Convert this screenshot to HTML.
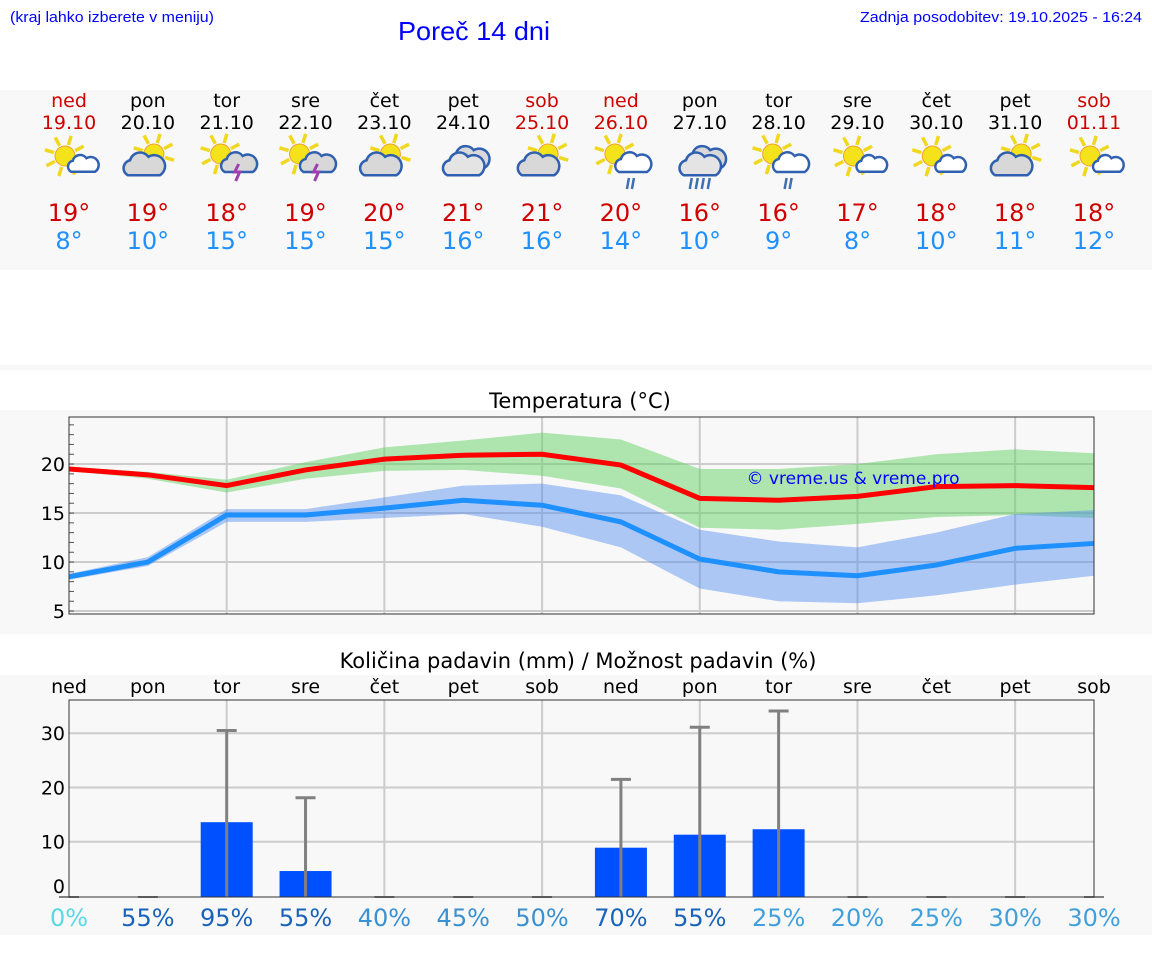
<!DOCTYPE html>
<html><head><meta charset="utf-8"><style>
body{margin:0;width:1152px;height:975px;background:#fff;overflow:hidden;font-family:"DejaVu Sans",sans-serif}
svg{display:block}
.hdr{font-family:"Liberation Sans",sans-serif;fill:#0000ff}
</style></head><body>
<svg id="s" width="1152" height="975" xmlns="http://www.w3.org/2000/svg">
<text class="hdr" x="10" y="22" font-size="15" textLength="204" lengthAdjust="spacingAndGlyphs">(kraj lahko izberete v meniju)</text>
<text class="hdr" x="398" y="40" font-size="26" textLength="152" lengthAdjust="spacingAndGlyphs">Poreč 14 dni</text>
<text class="hdr" x="1142" y="22" font-size="15" text-anchor="end" textLength="282" lengthAdjust="spacingAndGlyphs">Zadnja posodobitev: 19.10.2025 - 16:24</text>
<rect x="0" y="90" width="1152" height="180" fill="#f8f8f8"/>
<rect x="0" y="365" width="1152" height="5" fill="#f8f8f8"/>
<rect x="0" y="410" width="1152" height="224" fill="#f8f8f8"/>
<rect x="0" y="675" width="1152" height="260" fill="#f8f8f8"/>
<g id="daily"></g><g id="temp"></g><g id="prec"></g>
</svg>
<script>
const days=["ned","pon","tor","sre","čet","pet","sob","ned","pon","tor","sre","čet","pet","sob"];
const dates=["19.10","20.10","21.10","22.10","23.10","24.10","25.10","26.10","27.10","28.10","29.10","30.10","31.10","01.11"];
const icons=["sc","cs","st","st","cs","c","cs","sr","cr","sr","sc","sc","cs","sc"];
const hiTemps=[19,19,18,19,20,21,21,20,16,16,17,18,18,18];
const loTemps=[8,10,15,15,15,16,16,14,10,9,8,10,11,12];
const hiLine=[19.5,18.9,17.8,19.4,20.5,20.9,21,19.9,16.5,16.3,16.7,17.7,17.8,17.6];
const hiUpper=[19.7,19.2,18.4,20.2,21.7,22.4,23.2,22.5,19.5,19.5,20,21,21.5,21.1];
const hiLower=[19.3,18.5,17.1,18.5,19.3,19.4,18.8,17.5,13.5,13.3,13.9,14.6,14.8,14.5];
const loLine=[8.5,10,14.8,14.8,15.5,16.3,15.8,14.1,10.3,9,8.6,9.7,11.4,11.9];
const loUpper=[8.8,10.5,15.4,15.4,16.6,17.8,18,16.8,13.3,12.1,11.5,13,14.9,15.3];
const loLower=[8.2,9.6,14.1,14.1,14.5,14.9,13.6,11.5,7.3,6,5.8,6.6,7.7,8.6];
const tempTicks=[5,10,15,20];
const precip=[0,0,13.6,4.6,0,0,0,8.9,11.3,12.3,0,0,0,0];
const precipMax=[0,0,30.5,18.1,0,0,0,21.5,31.1,34.1,0,0,0,0];
const precipTicks=[0,10,20,30];
const chance=[0,55,95,55,40,45,50,70,55,25,20,25,30,30];
const NS="http://www.w3.org/2000/svg";
function mk(tag,attrs,parent,txt){const e=document.createElementNS(NS,tag);for(const k in attrs)e.setAttribute(k,attrs[k]);if(txt!==undefined)e.textContent=txt;parent.appendChild(e);return e;}
const X0=69,X1=1094;
const xs=i=>X0+i*(X1-X0)/13;
const red="#d00000",blue="#1e90ff";
const dg=document.getElementById('daily');
function sun(g,cx,cy,r){for(let a=0;a<8;a++){const an=a*Math.PI/4+0.3;mk('line',{x1:cx+Math.cos(an)*r*1.15,y1:cy+Math.sin(an)*r*1.15,x2:cx+Math.cos(an)*r*2.1,y2:cy+Math.sin(an)*r*2.1,stroke:"#f0d820","stroke-width":3.5},g);}
mk('circle',{cx:cx,cy:cy,r:r,fill:"#f4e21a",stroke:"#f0a030","stroke-width":1},g);}
function cloud(g,cx,cy,s,fill){const p=`M${cx-14*s},${cy+8*s} a${7*s},${7*s} 0 0 1 ${2*s},${-13*s} a${9*s},${9*s} 0 0 1 ${16*s},${-3*s} a${7*s},${7*s} 0 0 1 ${10*s},${16*s} z`;mk('path',{d:p,fill:fill,stroke:"#3060b0","stroke-width":2.5},g);}
for(let i=0;i<14;i++){const x=xs(i);const we=(days[i]==="ned"||days[i]==="sob");
 const t1=mk('text',{x:x,y:107,"font-size":19,"text-anchor":"middle",fill:we?red:"#000"},dg,days[i]);
 
 const t2=mk('text',{x:x,y:129,"font-size":19,"text-anchor":"middle",fill:we?red:"#000"},dg,dates[i]);
 
 const g=mk('g',{},dg);
 const k=icons[i],cy=158;
 if(k==="sc"){sun(g,x-4,cy-2,10);cloud(g,x+14,cy+7,0.85,"#fff");}
 else if(k==="cs"){sun(g,x+6,cy-4,10);cloud(g,x-4,cy+8,1.15,"#d8d8d8");}
 else if(k==="st"||k==="sr"){sun(g,x-6,cy-4,10);cloud(g,x+12,cy+6,1.0,k==="st"?"#d8d8d8":"#fff");
  if(k==="st")mk('path',{d:`M${x+12},${cy+6} l-4,8 h5 l-4,9`,stroke:"#a040b0","stroke-width":3,fill:"none"},g);
  else{mk('line',{x1:x+8,y1:cy+20,x2:x+6,y2:cy+31,stroke:"#4070b0","stroke-width":2.5},g);mk('line',{x1:x+13,y1:cy+20,x2:x+11,y2:cy+31,stroke:"#4070b0","stroke-width":2.5},g);}}
 else if(k==="c"||k==="cr"){cloud(g,x+6,cy+1,1.1,"#d8d8d8");cloud(g,x+0,cy+8,1.15,"#e4e4e4");
  if(k==="cr")for(let j=0;j<4;j++)mk('line',{x1:x-8+j*6,y1:cy+20,x2:x-10+j*6,y2:cy+31,stroke:"#4070b0","stroke-width":2.5},g);}
 const h=mk('text',{x:x,y:221,"font-size":24,"text-anchor":"middle",fill:red},dg,hiTemps[i]+"°");
 
 const l=mk('text',{x:x,y:249,"font-size":24,"text-anchor":"middle",fill:blue},dg,loTemps[i]+"°");
 
}
const tg=document.getElementById('temp');
const TY0=417,TY1=614,TMIN=4.7,TMAX=24.8;
const ty=v=>TY1-(v-TMIN)/(TMAX-TMIN)*(TY1-TY0);
const tt=mk('text',{x:580,y:408,"font-size":21,"text-anchor":"middle",fill:"#000"},tg,"Temperatura (°C)");

mk('rect',{x:X0,y:TY0,width:X1-X0,height:TY1-TY0,fill:"#f8f8f8"},tg);
for(let i=2;i<14;i+=2)mk('line',{x1:xs(i),y1:TY0,x2:xs(i),y2:TY1,stroke:"#ccc","stroke-width":2},tg);
tempTicks.forEach(v=>{mk('line',{x1:X0,y1:ty(v),x2:X1,y2:ty(v),stroke:"#ccc","stroke-width":2},tg);
 const t=mk('text',{x:X0-4,y:ty(v)+7,"font-size":19,"text-anchor":"end"},tg,v);});
for(let v=5;v<=24;v++)mk('line',{x1:X0,y1:ty(v),x2:X0+5,y2:ty(v),stroke:"#555","stroke-width":1},tg);
function band(up,lo,fill,name){let d="M"+up.map((v,i)=>xs(i)+","+ty(v)).join(" L")+" L"+lo.map((v,i)=>xs(i)+","+ty(v)).reverse().join(" L")+"Z";const p=mk('path',{d:d,fill:fill},tg);}
function line(a,c,name){const p=mk('polyline',{points:a.map((v,i)=>xs(i)+","+ty(v)).join(" "),fill:"none",stroke:c,"stroke-width":5},tg);}
band(hiUpper,hiLower,"rgba(100,210,100,0.5)","high-temp-band");
band(loUpper,loLower,"rgba(80,140,240,0.45)","low-temp-band");
line(hiLine,"#ff0000","high-temp-line");
line(loLine,blue,"low-temp-line");
mk('rect',{x:X0,y:TY0,width:X1-X0,height:TY1-TY0,fill:"none",stroke:"#333","stroke-width":1},tg);
const wm=mk('text',{x:853,y:484,"font-size":17,"text-anchor":"middle",fill:"#0000ff"},tg,"© vreme.us & vreme.pro");

const pg=document.getElementById('prec');
const PY0=700,PY1=897,PMAX=36.3;
const py=v=>PY1-v/PMAX*(PY1-PY0)-1;
const pt=mk('text',{x:578,y:668,"font-size":21,"text-anchor":"middle"},pg,"Količina padavin (mm) / Možnost padavin (%)");

mk('rect',{x:X0,y:PY0,width:X1-X0,height:PY1-PY0,fill:"#f8f8f8"},pg);
for(let i=2;i<14;i+=2)mk('line',{x1:xs(i),y1:PY0,x2:xs(i),y2:PY1,stroke:"#ccc","stroke-width":2},pg);
precipTicks.forEach(v=>{if(v>0)mk('line',{x1:X0,y1:py(v),x2:X1,y2:py(v),stroke:"#ccc","stroke-width":2},pg);
 const t=mk('text',{x:X0-4,y:v===0?893:py(v)+7,"font-size":19,"text-anchor":"end"},pg,v);});
const pcol=c=>c===0?"#5ad8e6":c>=55?"#1a63b8":c>=40?"#3a90d0":"#40a0dc";
for(let i=0;i<14;i++){const x=xs(i);
 const dn=mk('text',{x:x,y:693,"font-size":19,"text-anchor":"middle"},pg,days[i]);
 if(precip[i]>0){const b=mk('rect',{x:x-26,y:py(precip[i]),width:52,height:PY1-py(precip[i]),fill:"#0050ff"},pg);}
 if(precipMax[i]>0){const e=mk('path',{d:`M${x},${PY1} V${py(precipMax[i])} M${x-10},${py(precipMax[i])} H${x+10}`,stroke:"#808080","stroke-width":3,fill:"none"},pg);}
 else mk('line',{x1:x-10,y1:PY1,x2:x+10,y2:PY1,stroke:"#808080","stroke-width":2},pg);
 const c=mk('text',{x:x,y:926,"font-size":24,"text-anchor":"middle",fill:pcol(chance[i])},pg,chance[i]+"%");
}
mk('rect',{x:X0,y:PY0,width:X1-X0,height:PY1-PY0,fill:"none",stroke:"#333","stroke-width":1},pg);
</script>
</body></html>
